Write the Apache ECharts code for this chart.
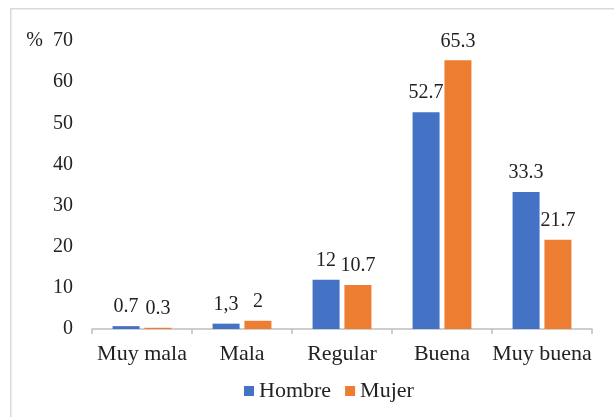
<!DOCTYPE html>
<html>
<head>
<meta charset="utf-8">
<script src="https://cdn.jsdelivr.net/npm/echarts@6/dist/echarts.min.js"></script>
<style>
  html, body { margin: 0; padding: 0; background: #fff; }
  #chart { width: 614px; height: 417px; }
</style>
</head>
<body>
<div id="chart"></div>
<script>
const categories = ['Muy mala', 'Mala', 'Regular', 'Buena', 'Muy buena']
const hombre = [0.7, 1.3, 12, 52.7, 33.3]
const mujer = [0.3, 2, 10.7, 65.3, 21.7]
// labels as printed in the source (note the comma in "1,3")
const hombreLabels = ['0.7', '1,3', '12', '52.7', '33.3']
const mujerLabels = ['0.3', '2', '10.7', '65.3', '21.7']

const serif = '"Times New Roman", "Liberation Serif", serif'
const textColor = '#222'

const myChart = echarts.init(document.getElementById('chart'))

const barLabel = (texts) => ({
  show: true,
  position: 'top',
  distance: 9,
  fontFamily: serif,
  fontSize: 20,
  color: textColor,
  formatter: (p) => texts[p.dataIndex]
})

const option = {
  animation: false,
  textStyle: { fontFamily: serif },
  graphic: [
    {
      // frame of the original figure (only top and left edges visible)
      type: 'rect',
      left: 10,
      top: 8,
      shape: { width: 700, height: 500 },
      style: { fill: 'transparent', stroke: '#d9d9d9', lineWidth: 1.5 },
      silent: true
    }
  ],
  grid: { left: 92, right: 22, top: 41, bottom: 88, containLabel: false },
  legend: {
    data: ['Hombre', 'Mujer'],
    left: 244,
    top: 380,
    padding: 0,
    itemWidth: 10,
    itemHeight: 10,
    itemGap: 14,
    icon: 'rect',
    textStyle: { fontFamily: serif, fontSize: 22, color: textColor }
  },
  xAxis: {
    type: 'category',
    data: categories,
    axisLine: { lineStyle: { color: '#bfbfbf', width: 1.5 } },
    axisTick: { show: true, length: 5, lineStyle: { color: '#bfbfbf', width: 1.5 } },
    axisLabel: { interval: 0, fontFamily: serif, fontSize: 22, color: textColor, margin: 14 }
  },
  yAxis: {
    type: 'value',
    min: 0,
    max: 70,
    interval: 10,
    name: '%',
    nameLocation: 'end',
    nameGap: 0,
    nameTextStyle: {
      fontFamily: serif,
      fontSize: 20,
      color: textColor,
      align: 'right',
      verticalAlign: 'middle',
      padding: [0, 49, 0, 0]
    },
    splitLine: { show: false },
    axisLine: { show: false },
    axisTick: { show: false },
    axisLabel: { fontFamily: serif, fontSize: 20, color: textColor, margin: 19 }
  },
  series: [
    {
      name: 'Hombre',
      type: 'bar',
      data: hombre,
      barWidth: 27,
      barGap: '18%',
      itemStyle: { color: '#4472c4' },
      label: barLabel(hombreLabels)
    },
    {
      name: 'Mujer',
      type: 'bar',
      data: mujer,
      barWidth: 27,
      itemStyle: { color: '#ed7d31' },
      label: barLabel(mujerLabels)
    }
  ]
}

option && myChart.setOption(option)
</script>
</body>
</html>
